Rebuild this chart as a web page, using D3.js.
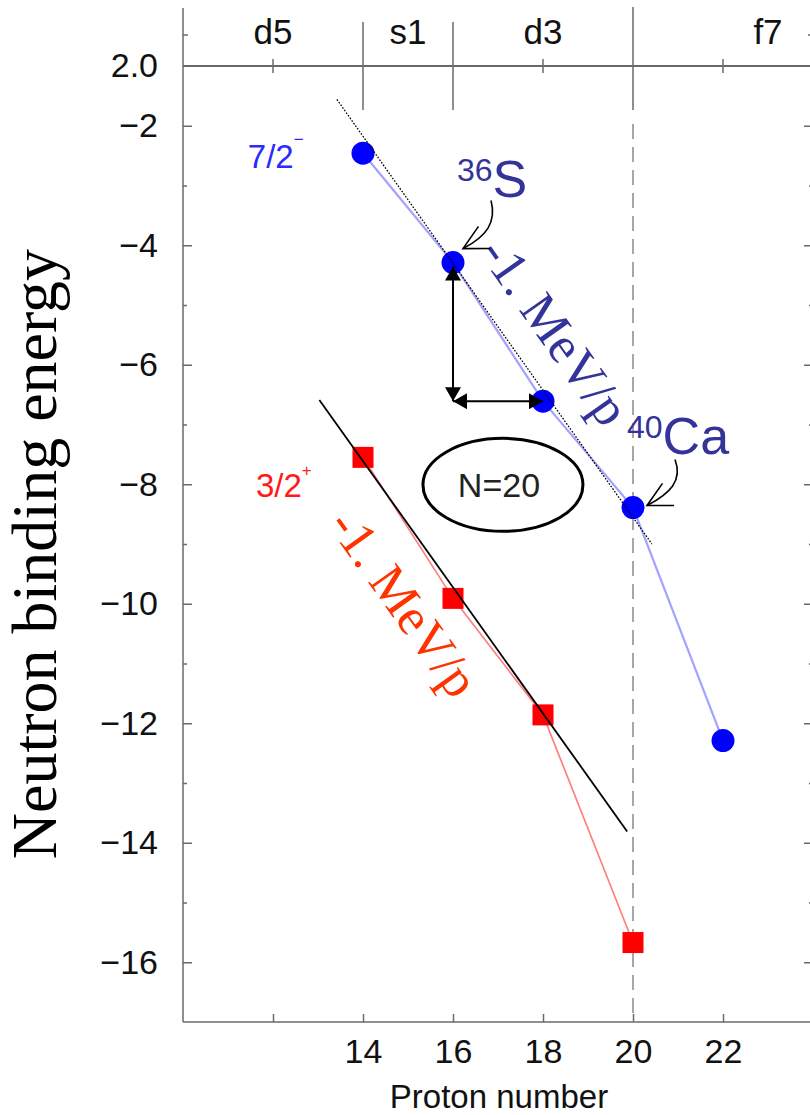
<!DOCTYPE html>
<html>
<head>
<meta charset="utf-8">
<script src="https://cdn.jsdelivr.net/npm/d3@7"></script>
<style>
  body { margin: 0; background: #fff; }
  svg { display: block; }
</style>
</head>
<body>
<script>
// Neutron binding energies of the N=20 isotones versus proton number
const protonNumbersF72 = [14, 16, 18, 20, 22];
const energyF72 = [-2.46, -4.29, -6.61, -8.39, -12.29];   // 7/2- orbit
const protonNumbersD32 = [14, 16, 18, 20];
const energyD32 = [-7.55, -9.91, -11.86, -15.67];         // 3/2+ orbit

// straight-line trends (about -1 MeV per proton)
const trendF72 = [[13.42, -1.56], [20.42, -9.0]];
const trendD32 = [[13.03, -6.59], [19.87, -13.81]];

// axis ticks and labels
const yMajorTicks = [-1, -2, -4, -6, -8, -10, -12, -14, -16];
const yMajorLabels = ["2.0", "\u22122", "\u22124", "\u22126", "\u22128", "\u221210", "\u221212", "\u221214", "\u221216"];
const yMinorTicks = [-3, -5, -7, -9, -11, -13, -15];
const xTicks = [12, 14, 16, 18, 20, 22];
const xTickLabels = ["", "14", "16", "18", "20", "22"];
const topTicks = [12, 18, 22];

// proton shells along the top
const shellNames = ["d5", "s1", "d3", "f7"];
const shellCentres = [12, 15, 18, 23];
const shellBorders = [14, 16];
const closedShell = 20;

const W = 810, H = 1115;
const sans = "'Liberation Sans', Arial, Helvetica, sans-serif";
const serif = "'Liberation Serif', 'Times New Roman', serif";
const axisColor = "#6a6a6a";
const navy = "#333399";

const svg = d3.select("body").append("svg")
  .attr("width", W).attr("height", H)
  .attr("viewBox", `0 0 ${W} ${H}`);

const x = d3.scaleLinear().domain([10, 24]).range([183, 813]);
const y = d3.scaleLinear().domain([-17, -1]).range([1022, 66]);

const defs = svg.append("defs");
defs.append("marker")
  .attr("id", "solidHead")
  .attr("viewBox", "0 0 14 16").attr("refX", 14).attr("refY", 8)
  .attr("markerWidth", 14).attr("markerHeight", 16)
  .attr("markerUnits", "userSpaceOnUse")
  .attr("orient", "auto-start-reverse")
  .append("path").attr("d", "M0,0L14,8L0,16Z").attr("fill", "#000");
defs.append("marker")
  .attr("id", "openHead")
  .attr("viewBox", "-2 -14 28 28").attr("refX", 24).attr("refY", 0)
  .attr("markerWidth", 28).attr("markerHeight", 28)
  .attr("markerUnits", "userSpaceOnUse")
  .attr("orient", "auto")
  .append("path").attr("d", "M0,-12.5L24,0L0,12.5")
  .attr("fill", "none").attr("stroke", "#000").attr("stroke-width", 1.6);

// ---- frame and axes ----
const frame = svg.append("g").attr("stroke", axisColor).attr("stroke-width", 1.5);
frame.append("line").attr("x1", x(10)).attr("x2", x(10)).attr("y1", 8).attr("y2", y(-17));
frame.append("line").attr("x1", x(24)).attr("x2", x(24)).attr("y1", 8).attr("y2", y(-17));
frame.append("line").attr("x1", x(10)).attr("x2", x(24)).attr("y1", y(-1)).attr("y2", y(-1)).attr("stroke-width", 2);
frame.append("line").attr("x1", x(10)).attr("x2", x(24)).attr("y1", y(-17)).attr("y2", y(-17));
frame.append("line").attr("x1", x(10)).attr("x2", x(10) + 5).attr("y1", 35).attr("y2", 35);
frame.append("line").attr("x1", x(24)).attr("x2", x(24) - 5).attr("y1", 35).attr("y2", 35);

function styleAxis(g, size) {
  g.select(".domain").remove();
  g.attr("font-family", sans).attr("font-size", size).attr("color", axisColor);
  g.selectAll(".tick line").attr("stroke-width", 1.5);
  g.selectAll("text").attr("fill", "#111");
}

svg.append("g").attr("transform", `translate(${x(10)},0)`)
  .call(d3.axisLeft(y).tickValues(yMajorTicks).tickSizeInner(-9).tickSizeOuter(0).tickPadding(25)
    .tickFormat(d => yMajorLabels[yMajorTicks.indexOf(d)]))
  .call(g => styleAxis(g, 34))
  .call(g => g.selectAll(".tick").filter(d => d === -1).select("line").remove());
svg.append("g").attr("transform", `translate(${x(10)},0)`)
  .call(d3.axisLeft(y).tickValues(yMinorTicks).tickSizeInner(-4).tickSizeOuter(0).tickFormat(""))
  .call(g => styleAxis(g, 10));
svg.append("g").attr("transform", `translate(${x(24)},0)`)
  .call(d3.axisRight(y).tickValues(yMajorTicks.slice(1)).tickSizeInner(-9).tickSizeOuter(0).tickFormat(""))
  .call(g => styleAxis(g, 10));
svg.append("g").attr("transform", `translate(${x(24)},0)`)
  .call(d3.axisRight(y).tickValues(yMinorTicks).tickSizeInner(-4).tickSizeOuter(0).tickFormat(""))
  .call(g => styleAxis(g, 10));
svg.append("g").attr("transform", `translate(0,${y(-17)})`)
  .call(d3.axisBottom(x).tickValues(xTicks).tickSizeInner(-8).tickSizeOuter(0).tickPadding(17)
    .tickFormat(d => xTickLabels[xTicks.indexOf(d)]))
  .call(g => styleAxis(g, 34));

// small crossing ticks on the top axis
svg.append("g").selectAll("line").data(topTicks).join("line")
  .attr("x1", d => x(d)).attr("x2", d => x(d))
  .attr("y1", y(-1) - 7).attr("y2", y(-1) + 7)
  .attr("stroke", axisColor).attr("stroke-width", 1.5);

// shell borders
svg.append("g").selectAll("line").data(shellBorders).join("line")
  .attr("x1", d => x(d)).attr("x2", d => x(d))
  .attr("y1", 22).attr("y2", 110)
  .attr("stroke", axisColor).attr("stroke-width", 1.5);
svg.append("line")
  .attr("x1", x(closedShell)).attr("x2", x(closedShell)).attr("y1", 7).attr("y2", 110)
  .attr("stroke", axisColor).attr("stroke-width", 1.5);
svg.append("line")
  .attr("x1", x(closedShell)).attr("x2", x(closedShell)).attr("y1", 124).attr("y2", y(-17))
  .attr("stroke", "#8a8a8a").attr("stroke-width", 1.5).attr("stroke-dasharray", "15,8");

// shell names
svg.append("g").selectAll("text").data(shellNames).join("text")
  .attr("x", (d, i) => x(shellCentres[i])).attr("y", 44)
  .attr("text-anchor", "middle")
  .attr("font-family", sans).attr("font-size", 35).attr("fill", "#111")
  .text(d => d);

// axis titles
svg.append("text")
  .attr("transform", "translate(56,554) rotate(-90)")
  .attr("text-anchor", "middle")
  .attr("font-family", serif).attr("font-size", 64).attr("fill", "#000")
  .text("Neutron binding energy");
svg.append("text")
  .attr("x", 499).attr("y", 1108)
  .attr("text-anchor", "middle")
  .attr("font-family", sans).attr("font-size", 33).attr("fill", "#111")
  .text("Proton number");

// ---- data series ----
const line = d3.line().x(d => x(d[0])).y(d => y(d[1]));
const f72 = protonNumbersF72.map((p, i) => [p, energyF72[i]]);
const d32 = protonNumbersD32.map((p, i) => [p, energyD32[i]]);

svg.append("path").datum(f72).attr("d", line)
  .attr("fill", "none").attr("stroke", "#a2a2ff").attr("stroke-width", 2.2);
svg.append("path").datum(d32).attr("d", line)
  .attr("fill", "none").attr("stroke", "#ff8080").attr("stroke-width", 1.7);

svg.append("g").selectAll("circle").data(f72).join("circle")
  .attr("cx", d => x(d[0])).attr("cy", d => y(d[1])).attr("r", 11.5)
  .attr("fill", "#0000ff");
svg.append("g").selectAll("path").data(d32).join("path")
  .attr("transform", d => `translate(${x(d[0])},${y(d[1])})`)
  .attr("d", d3.symbol(d3.symbolSquare, 21 * 21))
  .attr("fill", "#ff0000");

// trend lines
svg.append("path").datum(trendF72).attr("d", line)
  .attr("fill", "none").attr("stroke", "#000").attr("stroke-width", 1.3)
  .attr("stroke-dasharray", "1.6,1.6");
svg.append("path").datum(trendD32).attr("d", line)
  .attr("fill", "none").attr("stroke", "#000").attr("stroke-width", 1.8);

// slope labels along the trends
function angleOf(t) {
  return Math.atan2(y(t[1][1]) - y(t[0][1]), x(t[1][0]) - x(t[0][0])) * 180 / Math.PI;
}
svg.append("text")
  .attr("transform", `translate(${x(16.56)},${y(-4.13)}) rotate(${angleOf(trendF72)})`)
  .attr("font-family", serif).attr("font-size", 52).attr("fill", navy)
  .text("-1. MeV/p");
svg.append("text")
  .attr("transform", `translate(${x(13.2)},${y(-8.68)}) rotate(${angleOf(trendD32)})`)
  .attr("font-family", serif).attr("font-size", 52).attr("fill", "#ff3300")
  .text("-1. MeV/p");

// orbit labels
const lab72 = svg.append("text").attr("x", x(11.44)).attr("y", y(-2.71))
  .attr("font-family", sans).attr("font-size", 33).attr("fill", "#2a2aff");
lab72.append("tspan").text("7/2");
lab72.append("tspan").attr("dy", -23).attr("font-size", 17).text("\u2212");
const lab32 = svg.append("text").attr("x", x(11.62)).attr("y", y(-8.21))
  .attr("font-family", sans).attr("font-size", 33).attr("fill", "#ff1a1a");
lab32.append("tspan").text("3/2");
lab32.append("tspan").attr("dy", -21).attr("font-size", 17).text("+");

// difference arrows between Z=16 and Z=18
const p16 = f72[1], p18 = f72[2];
svg.append("line")
  .attr("x1", x(p16[0])).attr("y1", y(p16[1]) + 4)
  .attr("x2", x(p16[0])).attr("y2", y(p18[1]))
  .attr("stroke", "#000").attr("stroke-width", 2)
  .attr("marker-start", "url(#solidHead)").attr("marker-end", "url(#solidHead)");
svg.append("line")
  .attr("x1", x(p16[0])).attr("y1", y(p18[1]))
  .attr("x2", x(p18[0])).attr("y2", y(p18[1]))
  .attr("stroke", "#000").attr("stroke-width", 2)
  .attr("marker-start", "url(#solidHead)").attr("marker-end", "url(#solidHead)");

// nucleus labels with pointers
function nucleus(pt, mass, sym, dx, dy) {
  const px = x(pt[0]), py = y(pt[1]);
  const t = svg.append("text").attr("x", px + dx).attr("y", py + dy)
    .attr("font-family", sans).attr("fill", navy);
  t.append("tspan").attr("font-size", 32).attr("dy", 0).text(mass);
  t.append("tspan").attr("font-size", 52).attr("dy", 16).text(sym);
}
nucleus(f72[1], "36", "S", 4, -82);
nucleus(f72[3], "40", "Ca", -6, -70);

function pointer(pt, sx, sy, c1x, c1y, c2x, c2y, ex, ey) {
  const px = x(pt[0]), py = y(pt[1]);
  svg.append("path")
    .attr("d", `M${px + sx},${py + sy}C${px + c1x},${py + c1y} ${px + c2x},${py + c2y} ${px + ex},${py + ey}`)
    .attr("fill", "none").attr("stroke", "#000").attr("stroke-width", 1.6)
    .attr("marker-end", "url(#openHead)");
}
pointer(f72[1], 38, -62, 44, -40, 33, -26, 10, -14);
pointer(f72[3], 42, -48, 50, -27, 37, -14, 14, -2);

// N=20 tag
svg.append("ellipse")
  .attr("cx", x(17.11)).attr("cy", y(-8.01)).attr("rx", 80).attr("ry", 46.5)
  .attr("fill", "none").attr("stroke", "#000").attr("stroke-width", 3);
svg.append("text")
  .attr("x", x(17.11) - 4).attr("y", y(-8.01) + 12)
  .attr("text-anchor", "middle")
  .attr("font-family", sans).attr("font-size", 34).attr("fill", "#222")
  .text("N=20");
</script>
</body>
</html>
